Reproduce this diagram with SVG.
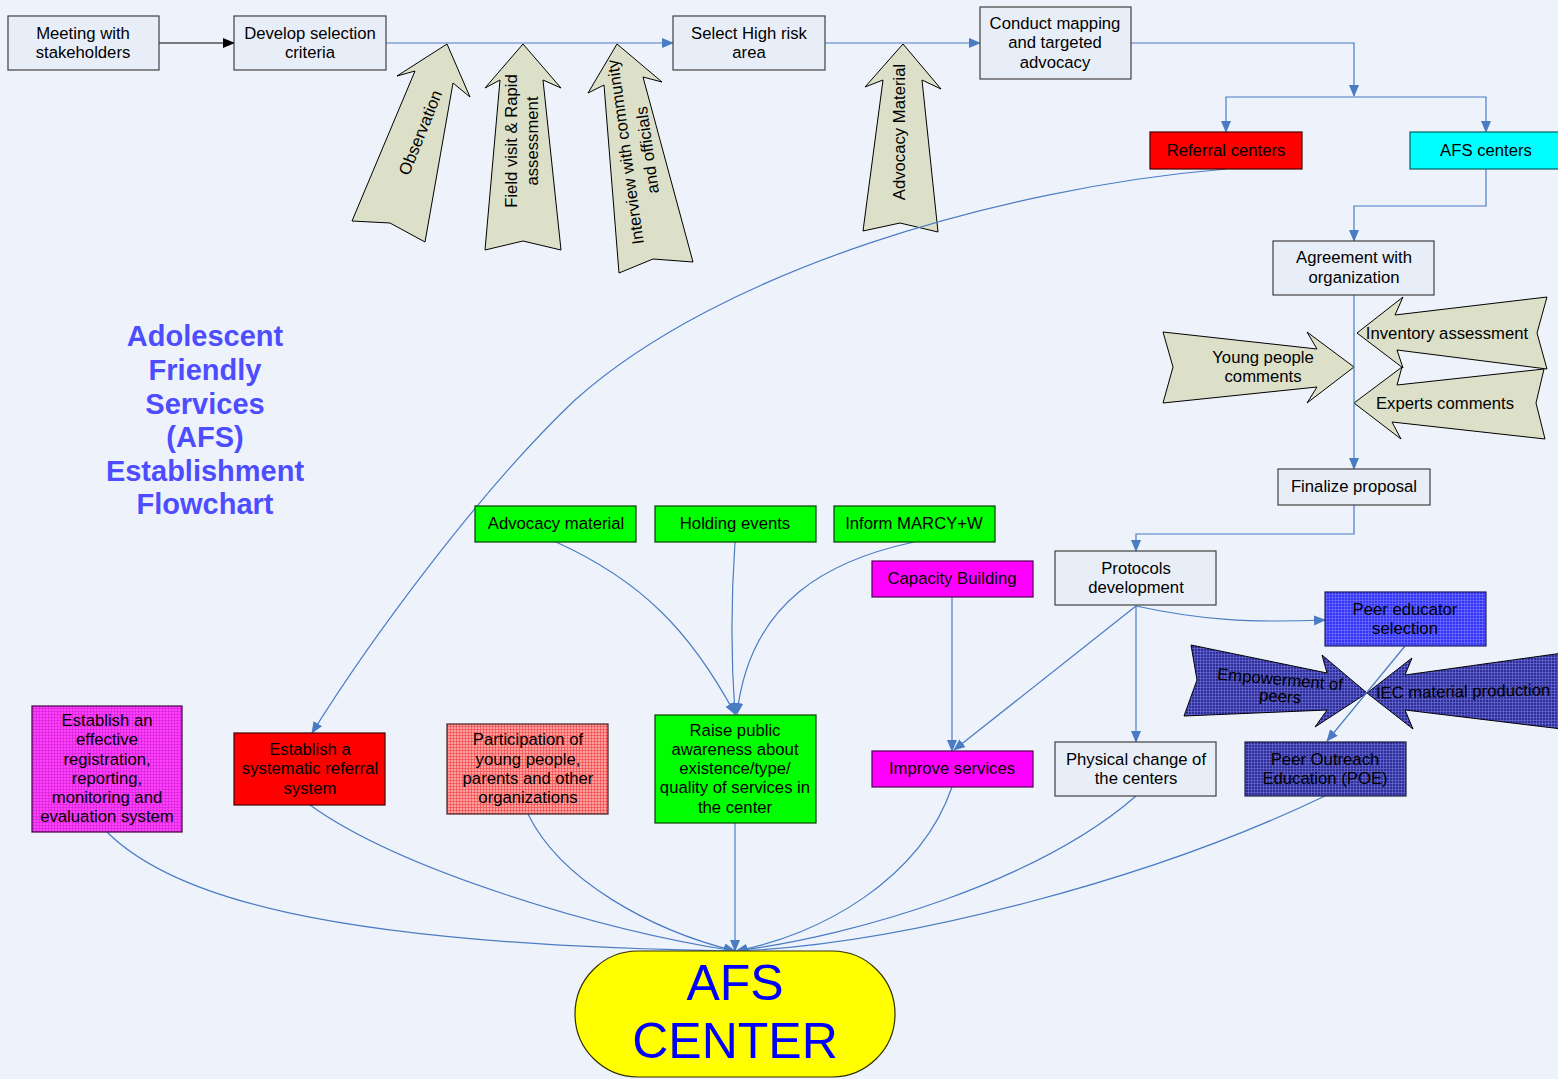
<svg xmlns="http://www.w3.org/2000/svg" width="1558" height="1079" viewBox="0 0 1558 1079">
<style>
text{font-family:"Liberation Sans",Arial,sans-serif;font-size:16.7px;fill:#000;text-anchor:middle}
.box{fill:#E8EEF8;stroke:#404040;stroke-width:1.2}
.blk{fill:#DDE0C8;stroke:#000;stroke-width:1}
.dblk{fill:url(#gNavy);stroke:#000;stroke-width:1}
.c{fill:none;stroke:#4A7CC4;stroke-width:1.2}
.ca{fill:none;stroke:#4A7CC4;stroke-width:1.2;marker-end:url(#ah)}
.title{font-weight:bold;font-size:29px;fill:#4D4DFF}
</style>
<defs>
<marker id="ah" markerWidth="12" markerHeight="12" viewBox="0 0 12 12" refX="11" refY="6" orient="auto" markerUnits="userSpaceOnUse"><path d="M0,1 L12,6 L0,11 z" fill="#4A7CC4"/></marker>
<marker id="ahk" markerWidth="12" markerHeight="12" viewBox="0 0 12 12" refX="11" refY="6" orient="auto" markerUnits="userSpaceOnUse"><path d="M0,1 L12,6 L0,11 z" fill="#000"/></marker>
<pattern id="gNavy" width="3" height="3" patternUnits="userSpaceOnUse"><rect width="3" height="3" fill="#2E2E98"/><path d="M0,0.5H3M0.5,0V3" stroke="#6A6AD6" stroke-width="0.7"/></pattern>
<pattern id="gBlue" width="3" height="3" patternUnits="userSpaceOnUse"><rect width="3" height="3" fill="#3434F4"/><path d="M0,0.5H3M0.5,0V3" stroke="#7070FF" stroke-width="0.7"/></pattern>
<pattern id="gMag" width="3" height="3" patternUnits="userSpaceOnUse"><rect width="3" height="3" fill="#FF40FF"/><path d="M0,0.5H3M0.5,0V3" stroke="#D020D0" stroke-width="0.6"/></pattern>
<pattern id="gPink" width="3" height="3" patternUnits="userSpaceOnUse"><rect width="3" height="3" fill="#FFA0A0"/><path d="M0,0.5H3M0.5,0V3" stroke="#F04040" stroke-width="0.6"/></pattern>
</defs>
<rect width="1558" height="1079" fill="#EEF3FB"/>

<g id="title">
<text class="title" x="205" y="346">Adolescent</text>
<text class="title" x="205" y="380">Friendly</text>
<text class="title" x="205" y="414">Services</text>
<text class="title" x="205" y="447">(AFS)</text>
<text class="title" x="205" y="481">Establishment</text>
<text class="title" x="205" y="514">Flowchart</text>
</g>

<g id="block-arrows">
<g id="arrow-observation"><polygon class="blk" points="447,44 470,97 453,83 425,242 390,223 352,221 415,71 397,76"/><text transform="translate(421,133) rotate(-68)" y="5">Observation</text></g>
<g id="arrow-field"><polygon class="blk" points="523,44 561,88 543,80 561,250 523,241 485,250 500,80 485,88"/><text transform="translate(512,141) rotate(-90)" y="5">Field visit &amp; Rapid</text><text transform="translate(533,141) rotate(-90)" y="5">assessment</text></g>
<g id="arrow-interview"><polygon class="blk" points="617,44 662,82 643,77 693,262 653,259 619,273 604,85 588,93"/><text transform="translate(626,152) rotate(-98)" y="5">Interview with community</text><text transform="translate(648,150) rotate(-98)" y="5">and officials</text></g>
<g id="arrow-advocacy"><polygon class="blk" points="903,44 941,89 922,80 938,232 900,223 863,231 883,80 865,87"/><text transform="translate(900,132) rotate(-90)" y="5">Advocacy Material</text></g>
<g id="arrow-young"><polygon class="blk" points="1163,332 1317,349 1307,332 1354,367 1307,403 1317,387 1163,403 1173,367"/><text x="1263" y="363">Young people</text><text x="1263" y="382">comments</text></g>
<g id="arrow-inventory"><polygon class="blk" points="1357,333 1403,297 1395,315 1547,297 1537,333 1547,369 1397,350 1403,368"/><text x="1447" y="339">Inventory assessment</text></g>
<g id="arrow-experts"><polygon class="blk" points="1354,403 1402,367 1397,385 1544,369 1536,403 1545,439 1392,422 1401,439"/><text x="1445" y="409">Experts comments</text></g>
<g id="arrow-empowerment"><polygon class="dblk" points="1191,645 1327,673 1322,655 1367,693 1315,727 1327,710 1184,716 1197,680"/><text transform="translate(1280,680) rotate(5)" y="5">Empowerment of</text><text transform="translate(1280,697) rotate(4)" y="5">peers</text></g>
<g id="arrow-iec"><polygon class="dblk" points="1367,693 1412,658 1405,675 1570,652 1570,730 1405,710 1413,729"/><text transform="translate(1463,692) rotate(-1)" y="5">IEC material production</text></g>
</g>

<g id="connectors">
<line x1="159" y1="43" x2="234" y2="43" stroke="#000" stroke-width="1.2" marker-end="url(#ahk)"/>
<line class="ca" x1="386" y1="43" x2="673" y2="43"/>
<line class="ca" x1="825" y1="43" x2="980" y2="43"/>
<path class="ca" d="M1131,43 H1354 V96"/>
<path class="ca" d="M1354,97 H1226 V132"/>
<path class="ca" d="M1354,97 H1486 V132"/>
<path class="ca" d="M1486,169 V206 H1354 V241"/>
<path class="ca" d="M1354,295 V469"/>
<path class="ca" d="M1354,505 V534 H1136 V551"/>
<path class="ca" d="M1136,606 C1200,620 1250,623 1325,620"/>
<path class="ca" d="M1136,606 V742"/>
<path class="ca" d="M1136,606 L954,750"/>
<path class="ca" d="M952,597 V751"/>
<path class="ca" d="M1405,646 L1327,741"/>
<path class="ca" d="M1226,169 C1000,188 720,270 575,400 C480,490 370,640 312,733"/>
<path class="ca" d="M556,542 C640,580 690,630 735,714"/>
<path class="ca" d="M735,542 C731,600 731,660 735,714"/>
<path class="ca" d="M914,542 C830,560 750,600 737,714"/>
<path class="ca" d="M107,832 C170,895 320,945 735,951"/>
<path class="ca" d="M310,805 C400,870 600,930 735,951"/>
<path class="ca" d="M528,814 C560,880 650,930 735,951"/>
<path class="ca" d="M735,823 V951"/>
<path class="ca" d="M952,787 C920,880 820,935 736,951"/>
<path class="ca" d="M1136,796 C1040,880 860,935 736,951"/>
<path class="ca" d="M1325,796 C1150,880 900,945 736,951"/>
</g>

<g id="n-meeting"><rect class="box" x="8" y="16" width="151" height="54"/><text x="83" y="39">Meeting with</text><text x="83" y="58">stakeholders</text></g>
<g id="n-develop"><rect class="box" x="234" y="16" width="152" height="54"/><text x="310" y="39">Develop selection</text><text x="310" y="58">criteria</text></g>
<g id="n-select"><rect class="box" x="673" y="16" width="152" height="54"/><text x="749" y="39">Select High risk</text><text x="749" y="58">area</text></g>
<g id="n-conduct"><rect class="box" x="980" y="7" width="151" height="72"/><text x="1055" y="29">Conduct mapping</text><text x="1055" y="48">and targeted</text><text x="1055" y="68">advocacy</text></g>
<g id="n-referral"><rect x="1150" y="132" width="152" height="37" fill="#FF0000" stroke="#400000" stroke-width="1.2"/><text x="1226" y="156">Referral centers</text></g>
<g id="n-afs"><rect x="1410" y="132" width="152" height="37" fill="#00FFFF" stroke="#006060" stroke-width="1.2"/><text x="1486" y="156">AFS centers</text></g>
<g id="n-agreement"><rect class="box" x="1273" y="241" width="161" height="54"/><text x="1354" y="263">Agreement with</text><text x="1354" y="283">organization</text></g>
<g id="n-finalize"><rect class="box" x="1278" y="469" width="152" height="36"/><text x="1354" y="492">Finalize proposal</text></g>
<g id="n-protocols"><rect class="box" x="1055" y="551" width="161" height="54"/><text x="1136" y="574">Protocols</text><text x="1136" y="593">development</text></g>
<g id="n-peer"><rect x="1325" y="592" width="161" height="54" fill="url(#gBlue)" stroke="#202060" stroke-width="1.2"/><text x="1405" y="615">Peer educator</text><text x="1405" y="634">selection</text></g>
<g id="n-physical"><rect class="box" x="1055" y="742" width="161" height="54"/><text x="1136" y="765">Physical change of</text><text x="1136" y="784">the centers</text></g>
<g id="n-poe"><rect x="1245" y="742" width="161" height="54" fill="url(#gNavy)" stroke="#202040" stroke-width="1.2"/><text x="1325" y="765">Peer Outreach</text><text x="1325" y="784">Education (POE)</text></g>
<g id="n-capacity"><rect x="872" y="561" width="161" height="36" fill="#FF00FF" stroke="#500050" stroke-width="1.2"/><text x="952" y="584">Capacity Building</text></g>
<g id="n-improve"><rect x="872" y="751" width="161" height="36" fill="#FF00FF" stroke="#500050" stroke-width="1.2"/><text x="952" y="774">Improve services</text></g>
<g id="n-advmat"><rect x="475" y="506" width="161" height="36" fill="#00FF00" stroke="#004000" stroke-width="1.2"/><text x="556" y="529">Advocacy material</text></g>
<g id="n-holding"><rect x="655" y="506" width="161" height="36" fill="#00FF00" stroke="#004000" stroke-width="1.2"/><text x="735" y="529">Holding events</text></g>
<g id="n-inform"><rect x="834" y="506" width="161" height="36" fill="#00FF00" stroke="#004000" stroke-width="1.2"/><text x="914" y="529">Inform MARCY+W</text></g>
<g id="n-raise"><rect x="655" y="715" width="161" height="108" fill="#00FF00" stroke="#004000" stroke-width="1.2"/><text x="735" y="736">Raise public</text><text x="735" y="755">awareness about</text><text x="735" y="774">existence/type/</text><text x="735" y="793">quality of services in</text><text x="735" y="813">the center</text></g>
<g id="n-sysref"><rect x="234" y="733" width="151" height="72" fill="#FF0000" stroke="#400000" stroke-width="1.2"/><text x="310" y="755">Establish a</text><text x="310" y="774">systematic referral</text><text x="310" y="794">system</text></g>
<g id="n-particip"><rect x="447" y="724" width="161" height="90" fill="url(#gPink)" stroke="#402020" stroke-width="1.2"/><text x="528" y="745">Participation of</text><text x="528" y="765">young people,</text><text x="528" y="784">parents and other</text><text x="528" y="803">organizations</text></g>
<g id="n-registration"><rect x="32" y="706" width="150" height="126" fill="url(#gMag)" stroke="#400040" stroke-width="1.2"/><text x="107" y="726">Establish an</text><text x="107" y="745">effective</text><text x="107" y="765">registration,</text><text x="107" y="784">reporting,</text><text x="107" y="803">monitoring and</text><text x="107" y="822">evaluation system</text></g>
<g id="n-afscenter"><rect x="575" y="951" width="320" height="126" rx="63" ry="63" fill="#FFFF00" stroke="#303000" stroke-width="1.2"/><text x="735" y="1000" style="font-size:50px;fill:#0000FF">AFS</text><text x="735" y="1058" style="font-size:50px;fill:#0000FF">CENTER</text></g>
</svg>
